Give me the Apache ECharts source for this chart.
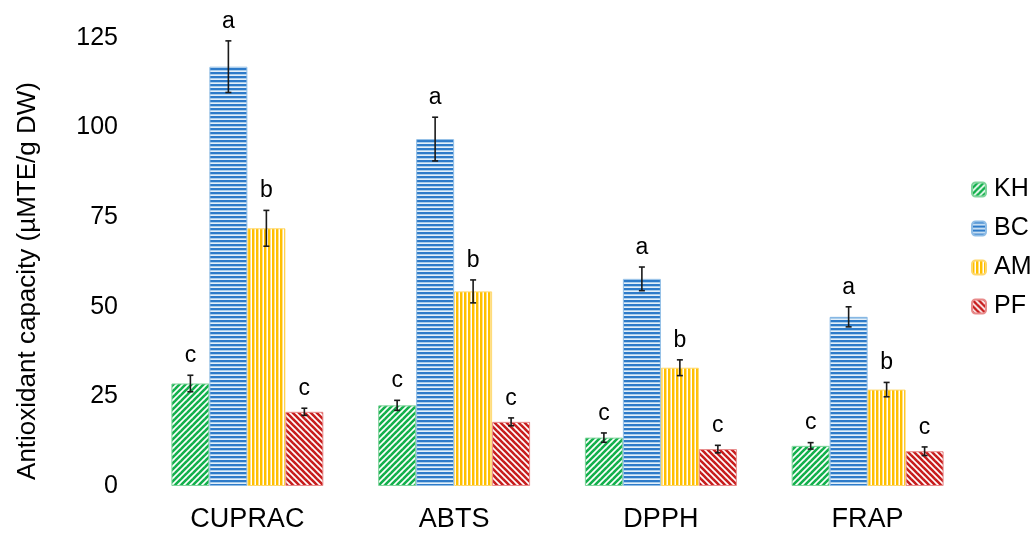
<!DOCTYPE html>
<html>
<head>
<meta charset="utf-8">
<script src="https://cdn.jsdelivr.net/npm/echarts@6/dist/echarts.min.js"></script>
<style>html,body{margin:0;padding:0;background:#fff}#c{width:1035px;height:533px}</style>
</head>
<body>
<div id="c"></div>
<script>
// ---- data ----
const categories = ['CUPRAC', 'ABTS', 'DPPH', 'FRAP'];
const seriesNames = ['KH', 'BC', 'AM', 'PF'];
const khValues = [28.6, 22.5, 13.5, 11.2];
const bcValues = [117.0, 96.8, 57.8, 47.2];
const amValues = [71.9, 54.3, 33.0, 26.9];
const pfValues = [20.7, 17.9, 10.3, 9.7];
const khErrors = [2.3, 1.4, 1.3, 0.9];
const bcErrors = [7.2, 6.1, 3.3, 2.8];
const amErrors = [5.0, 3.2, 2.2, 2.0];
const pfErrors = [1.0, 1.1, 1.05, 1.2];
const khLetters = ['c', 'c', 'c', 'c'];
const bcLetters = ['a', 'a', 'a', 'a'];
const amLetters = ['b', 'b', 'b', 'b'];
const pfLetters = ['c', 'c', 'c', 'c'];
const yTicks = [0, 25, 50, 75, 100, 125];

const FONT = '"Liberation Sans", Arial, sans-serif';
const GAP = 0.265;

function diag(color, up) {
  const s = 6, c = document.createElement('canvas');
  c.width = s; c.height = s;
  const g = c.getContext('2d');
  g.fillStyle = '#fff'; g.fillRect(0, 0, s, s);
  g.strokeStyle = color; g.lineWidth = 2.6;
  for (let k = -1; k <= 1; k++) {
    g.beginPath();
    if (up) { g.moveTo(k * s - 1, s + 1); g.lineTo(k * s + s + 1, -1); }
    else { g.moveTo(k * s - 1, -1); g.lineTo(k * s + s + 1, s + 1); }
    g.stroke();
  }
  return c;
}
function horiz() {
  const c = document.createElement('canvas');
  c.width = 4; c.height = 4;
  const g = c.getContext('2d');
  g.fillStyle = '#2e7bc9'; g.fillRect(0, 0, 4, 2);
  g.fillStyle = '#a9cdeb'; g.fillRect(0, 2, 4, 1);
  g.fillStyle = '#e4eff9'; g.fillRect(0, 3, 4, 1);
  return c;
}
function vert() {
  const c = document.createElement('canvas');
  c.width = 4; c.height = 4;
  const g = c.getContext('2d');
  g.fillStyle = '#ffc000'; g.fillRect(0, 0, 2, 4);
  g.fillStyle = '#ffe08c'; g.fillRect(2, 0, 1, 4);
  g.fillStyle = '#ffffff'; g.fillRect(3, 0, 1, 4);
  return c;
}

const patterns = [
  { image: diag('#12b04c', true), repeat: 'repeat' },
  { image: horiz(), repeat: 'repeat' },
  { image: vert(), repeat: 'repeat' },
  { image: diag('#c81e1e', false), repeat: 'repeat' }
];
const borders = ['#7fd39b', '#8fbde6', '#ffd86b', '#e88a8a'];
const allValues = [khValues, bcValues, amValues, pfValues];
const allErrors = [khErrors, bcErrors, amErrors, pfErrors];
const allLetters = [khLetters, bcLetters, amLetters, pfLetters];

const series = [];
seriesNames.forEach((n, i) => {
  series.push({
    name: n, type: 'bar', data: allValues[i],
    barGap: '0%', barCategoryGap: (GAP * 100) + '%',
    itemStyle: { color: patterns[i], borderColor: borders[i], borderWidth: 1 },
    emphasis: { disabled: true }
  });
});
seriesNames.forEach((n, i) => {
  series.push({
    name: n + ' err', type: 'custom', z: 10,
    data: categories.map((c, j) => [j, allValues[i][j], allErrors[i][j]]),
    renderItem: function (params, api) {
      const ci = api.value(0), v = api.value(1), e = api.value(2);
      const band = api.size([1, 0])[0];
      const bw = band * (1 - GAP) / 4;
      const x = api.coord([ci, v])[0] + (i - 1.5) * bw;
      const top = api.coord([ci, v + e])[1];
      const bot = api.coord([ci, v - e])[1];
      const st = { stroke: '#1a1a1a', lineWidth: 1.6 };
      return {
        type: 'group', children: [
          { type: 'line', shape: { x1: x, y1: top, x2: x, y2: bot }, style: st },
          { type: 'line', shape: { x1: x - 3, y1: top, x2: x + 3, y2: top }, style: st },
          { type: 'line', shape: { x1: x - 3, y1: bot, x2: x + 3, y2: bot }, style: st },
          { type: 'text', x: x, y: top - 8, style: { text: allLetters[i][params.dataIndex], fill: '#000', font: '23px ' + FONT, textAlign: 'center', textVerticalAlign: 'bottom' } }
        ]
      };
    }
  });
});

const chart = echarts.init(document.getElementById('c'), null, { renderer: 'canvas' });
chart.setOption({
  animation: false,
  backgroundColor: '#fff',
  grid: { left: 144, right: 64, top: 38, bottom: 46 },
  legend: {
    data: seriesNames, orient: 'vertical', left: 971, top: 177, padding: 0,
    itemWidth: 14, itemHeight: 14, itemGap: 14,
    textStyle: { fontSize: 25, fontFamily: FONT, color: '#000', padding: [0, 0, 0, 3] }
  },
  xAxis: {
    type: 'category', data: categories,
    axisLine: { show: false }, axisTick: { show: false },
    axisLabel: { fontSize: 27, fontFamily: FONT, color: '#000', margin: 20 }
  },
  yAxis: {
    type: 'value', min: yTicks[0], max: yTicks[yTicks.length - 1], interval: 25,
    axisLine: { show: false }, axisTick: { show: false }, splitLine: { show: false },
    axisLabel: { fontSize: 25, fontFamily: FONT, color: '#000', margin: 26 }
  },
  graphic: [{
    type: 'text', x: 28, y: 281, rotation: Math.PI / 2,
    style: { text: 'Antioxidant capacity (µMTE/g DW)', font: '26px ' + FONT, fill: '#000', textAlign: 'center', textVerticalAlign: 'middle' }
  }],
  series: series
});
</script>
</body>
</html>
